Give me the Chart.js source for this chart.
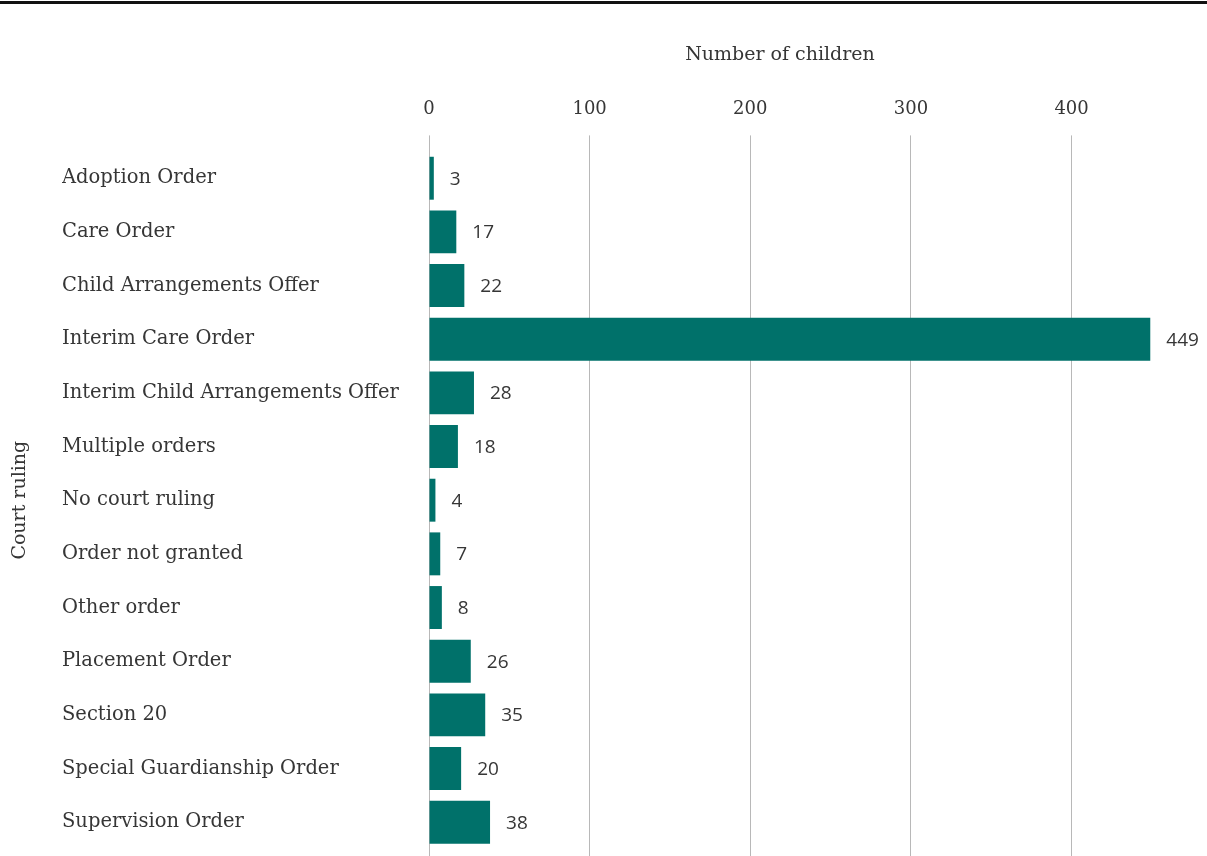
<!DOCTYPE html>
<html>
<head>
<meta charset="utf-8">
<script src="https://cdn.jsdelivr.net/npm/chart.js@4.4.1/dist/chart.umd.min.js"></script>
<style>
  html, body { margin: 0; padding: 0; background: #ffffff; }
  #wrap { position: relative; width: 1207px; height: 856px; }
</style>
</head>
<body>
<div id="wrap"><canvas id="chart" width="1207" height="856"></canvas></div>
<script>
// Court rulings and the number of children for each
const categories = [
  'Adoption Order',
  'Care Order',
  'Child Arrangements Offer',
  'Interim Care Order',
  'Interim Child Arrangements Offer',
  'Multiple orders',
  'No court ruling',
  'Order not granted',
  'Other order',
  'Placement Order',
  'Section 20',
  'Special Guardianship Order',
  'Supervision Order'
];
const childCounts = [3, 17, 22, 449, 28, 18, 4, 7, 8, 26, 35, 20, 38];
const xTicks = [0, 100, 200, 300, 400];

const serif = '"DejaVu Serif", serif';
const textColor = '#363636';
const barColor = '#00716A';
const gridColor = '#b8b8b8';
const yTitle = 'Court ruling';

// Thick rule across the top of the figure
const topRule = {
  id: 'topRule',
  beforeDraw(chart) {
    const ctx = chart.ctx;
    ctx.save();
    ctx.fillStyle = '#111111';
    ctx.fillRect(0, 1, chart.width, 3);
    ctx.restore();
  }
};

// Carry the value gridlines on down to the foot of the canvas
const gridRunout = {
  id: 'gridRunout',
  beforeDatasetsDraw(chart) {
    const ctx = chart.ctx;
    const xs = chart.scales.x;
    const area = chart.chartArea;
    ctx.save();
    ctx.strokeStyle = gridColor;
    ctx.lineWidth = 1;
    xs.ticks.forEach(t => {
      const px = Math.round(xs.getPixelForValue(t.value) - 0.5) + 0.5;
      ctx.beginPath();
      ctx.moveTo(px, area.bottom);
      ctx.lineTo(px, chart.height);
      ctx.stroke();
    });
    ctx.restore();
  }
};

// Rotated title for the category axis, set to the left of the labels
const categoryTitle = {
  id: 'categoryTitle',
  afterDraw(chart) {
    const ctx = chart.ctx;
    const area = chart.chartArea;
    ctx.save();
    ctx.translate(20, (area.top + area.bottom) / 2);
    ctx.rotate(-Math.PI / 2);
    ctx.font = '19px ' + serif;
    ctx.fillStyle = textColor;
    ctx.textAlign = 'center';
    ctx.textBaseline = 'middle';
    ctx.fillText(yTitle, 0, 0);
    ctx.restore();
  }
};

// Value printed just past the end of each bar
const valueLabels = {
  id: 'valueLabels',
  afterDatasetsDraw(chart) {
    const ctx = chart.ctx;
    const meta = chart.getDatasetMeta(0);
    const values = chart.data.datasets[0].data;
    ctx.save();
    ctx.font = '19px "Open Sans", sans-serif';
    ctx.fillStyle = textColor;
    ctx.textAlign = 'left';
    ctx.textBaseline = 'middle';
    meta.data.forEach((bar, i) => {
      ctx.fillText(String(values[i]), bar.x + 16, bar.y + 1);
    });
    ctx.restore();
  }
};

new Chart(document.getElementById('chart'), {
  type: 'bar',
  data: {
    labels: categories,
    datasets: [{
      label: 'Number of children',
      data: childCounts,
      backgroundColor: barColor,
      borderWidth: 0,
      barPercentage: 0.8,
      categoryPercentage: 1.0,
      clip: false
    }]
  },
  options: {
    indexAxis: 'y',
    responsive: false,
    animation: false,
    layout: { padding: { top: 22, right: 76, bottom: 7, left: 62 } },
    plugins: {
      legend: { display: false },
      tooltip: { enabled: false }
    },
    scales: {
      x: {
        position: 'top',
        min: 0,
        max: 437,
        afterBuildTicks(scale) {
          scale.ticks = xTicks.map(v => ({ value: v }));
        },
        ticks: {
          color: textColor,
          font: { family: serif, size: 18 },
          padding: 15,
          includeBounds: false
        },
        grid: {
          color: gridColor,
          lineWidth: 1,
          drawTicks: true,
          tickLength: 16,
          tickColor: gridColor
        },
        border: { display: false },
        title: {
          display: true,
          text: 'Number of children',
          color: textColor,
          font: { family: serif, size: 19 },
          padding: { top: 22, bottom: 17 }
        }
      },
      y: {
        afterFit(scale) {
          scale.width = 367;
          scale.paddingTop = 0;
          scale.paddingBottom = 0;
        },
        ticks: {
          color: textColor,
          font: { family: serif, size: 19.5 },
          crossAlign: 'far',
          padding: 0
        },
        grid: { display: false },
        border: { display: false }
      }
    }
  },
  plugins: [topRule, gridRunout, categoryTitle, valueLabels]
});
</script>
</body>
</html>
